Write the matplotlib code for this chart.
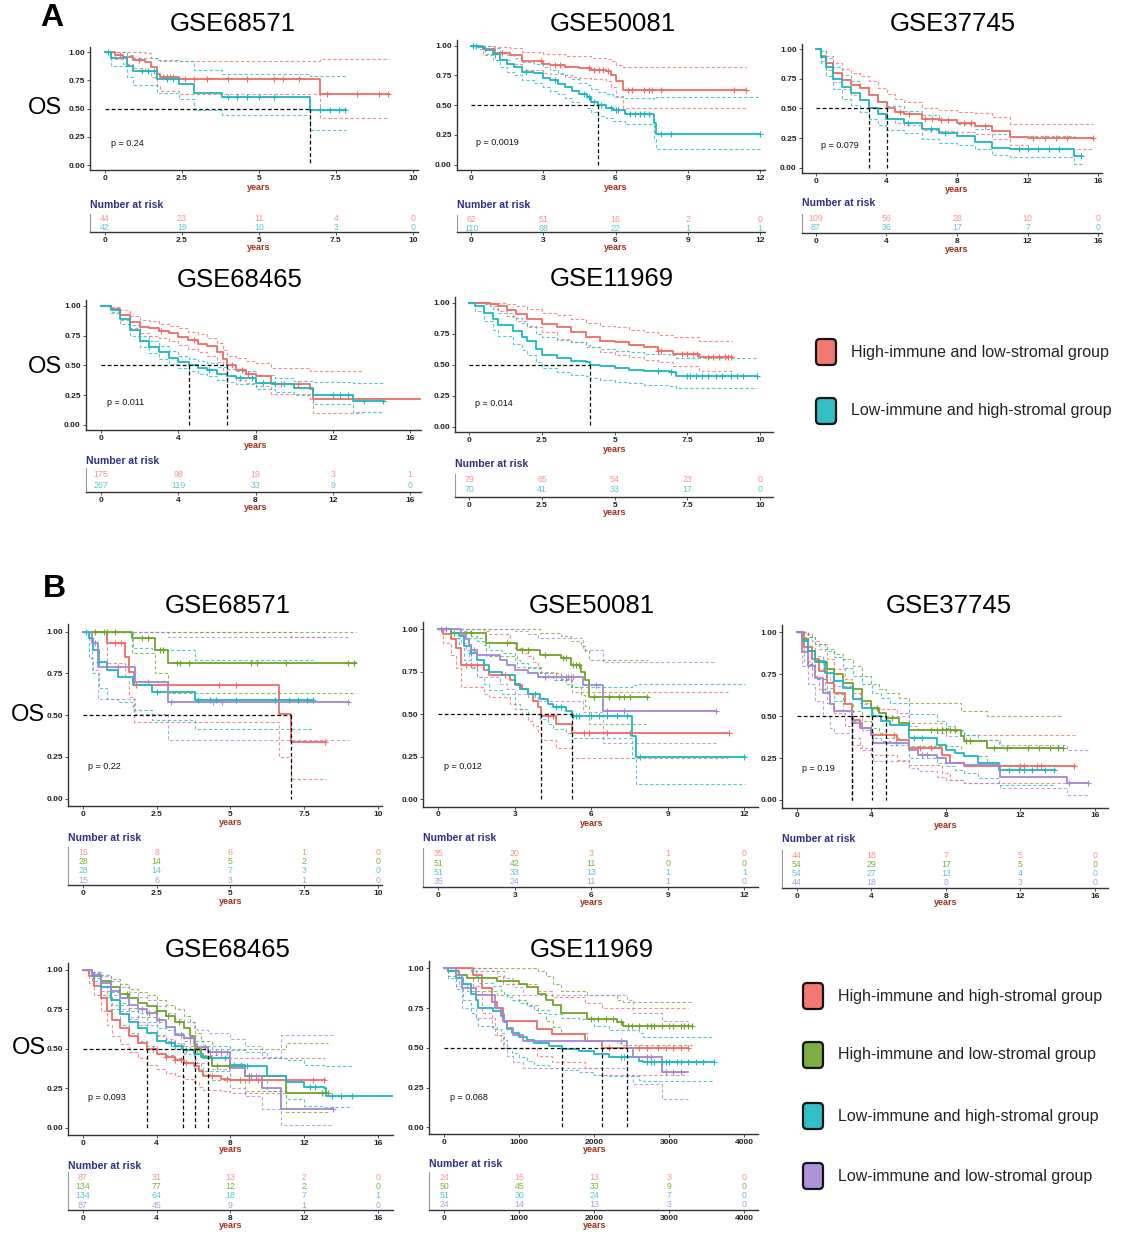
import matplotlib
matplotlib.use('Agg')
import matplotlib.pyplot as plt
from matplotlib.patches import FancyBboxPatch
import numpy as np

plt.rcParams['font.family'] = ['Liberation Sans', 'DejaVu Sans']

W, H = 1121, 1235

# colours of the groups
RED, GREEN, CYAN, PURPLE = '#F06B63', '#6FA52A', '#1DB8C0', '#A586D6'
RED_L, GREEN_L, CYAN_L, PURPLE_L = '#F5958E', '#7FB23A', '#5CC8CE', '#B49BDC'

# ---------------- data ----------------
# each curve: rows of [time, survival, lower CI, upper CI]

# A / GSE68571
a1_red = [[0, 1.00, 1.00, 1.00], [0.33, 0.98, 0.94, 1.00], [0.6, 0.96, 0.90, 1.00],
          [0.9, 0.93, 0.86, 1.00], [1.3, 0.91, 0.83, 0.99], [1.5, 0.87, 0.78, 0.95],
          [1.7, 0.81, 0.70, 0.93], [1.8, 0.78, 0.66, 0.92], [2.4, 0.76, 0.63, 0.92],
          [7.0, 0.63, 0.42, 0.94]]
a1_red_cens = [0.5, 1.1, 1.9, 2.0, 2.1, 2.2, 2.6, 2.9, 3.3, 4.0, 4.6, 5.5, 5.8, 6.3, 7.2, 8.2, 8.9, 9.2]
a1_cyan = [[0, 1.00, 1.00, 1.00], [0.2, 0.95, 0.88, 1.00], [0.7, 0.88, 0.78, 0.98],
           [0.9, 0.83, 0.71, 0.95], [1.7, 0.76, 0.64, 0.93], [2.4, 0.72, 0.59, 0.92],
           [2.9, 0.64, 0.49, 0.84], [3.8, 0.60, 0.44, 0.81], [6.65, 0.49, 0.31, 0.79]]
a1_cyan_cens = [0.1, 1.2, 1.4, 1.6, 2.0, 2.2, 4.0, 4.3, 4.6, 5.0, 5.5, 7.0, 7.3, 7.6, 7.8]
a1_ends = [9.24, 7.83]
a1_risk = [[44, 23, 11, 4, 0], [42, 19, 10, 3, 0]]

# A / GSE50081
a2_red = [[0, 1.00, 1.00, 1.00], [0.5, 0.97, 0.92, 1.00], [1.0, 0.94, 0.88, 0.99],
          [1.6, 0.92, 0.85, 0.98], [2.1, 0.87, 0.80, 0.95], [3.0, 0.85, 0.77, 0.93],
          [3.3, 0.84, 0.76, 0.93], [3.9, 0.82, 0.74, 0.91], [4.5, 0.81, 0.73, 0.91],
          [5.0, 0.80, 0.72, 0.90], [5.6, 0.79, 0.70, 0.89], [5.8, 0.75, 0.65, 0.87],
          [6.0, 0.70, 0.58, 0.84], [6.3, 0.63, 0.48, 0.82]]
a2_red_cens = [1.3, 2.9, 3.5, 3.7, 4.9, 5.1, 5.3, 5.5, 5.7, 6.5, 6.7, 7.2, 7.4, 7.5, 7.9, 10.9, 11.4]
a2_cyan = [[0, 1.00, 1.00, 1.00], [0.3, 0.99, 0.97, 1.00], [0.6, 0.96, 0.93, 1.00],
           [0.9, 0.93, 0.88, 0.98], [1.2, 0.88, 0.82, 0.95], [1.5, 0.85, 0.78, 0.92],
           [1.8, 0.82, 0.75, 0.90], [2.1, 0.78, 0.71, 0.86], [2.6, 0.77, 0.69, 0.85],
           [3.0, 0.73, 0.65, 0.82], [3.3, 0.71, 0.62, 0.80], [3.6, 0.68, 0.59, 0.77],
           [3.9, 0.65, 0.56, 0.75], [4.2, 0.62, 0.53, 0.72], [4.5, 0.59, 0.50, 0.69],
           [4.8, 0.57, 0.48, 0.67], [5.0, 0.53, 0.44, 0.64], [5.26, 0.50, 0.41, 0.61],
           [5.6, 0.48, 0.39, 0.59], [5.9, 0.46, 0.37, 0.57], [6.4, 0.43, 0.34, 0.56],
           [7.6, 0.35, 0.22, 0.55], [7.7, 0.26, 0.13, 0.57]]
a2_cyan_cens = [0.1, 0.2, 1.0, 2.3, 3.5, 4.7, 4.9, 5.1, 5.4, 5.8, 6.0, 6.1, 6.6, 6.8, 7.0, 7.2, 7.4, 7.9, 8.3, 12.0]
a2_ends = [11.42, 12.0]
a2_risk = [[62, 51, 16, 2, 0], [110, 68, 22, 1, 1]]

# A / GSE37745
a3_red = [[0, 1.00, 1.00, 1.00], [0.3, 0.94, 0.90, 0.98], [0.6, 0.88, 0.82, 0.94],
          [1.0, 0.80, 0.72, 0.88], [1.5, 0.74, 0.66, 0.83], [2.0, 0.70, 0.61, 0.80],
          [2.5, 0.67, 0.57, 0.77], [3.0, 0.61, 0.51, 0.73], [3.5, 0.55, 0.46, 0.67],
          [4.06, 0.50, 0.41, 0.62], [4.5, 0.47, 0.38, 0.58], [5.0, 0.45, 0.36, 0.55],
          [6.0, 0.41, 0.32, 0.50], [7.0, 0.40, 0.31, 0.49], [8.0, 0.38, 0.30, 0.47],
          [9.0, 0.35, 0.28, 0.46], [10.0, 0.31, 0.24, 0.43], [11.0, 0.26, 0.19, 0.37],
          [12.0, 0.25, 0.16, 0.37]]
a3_red_cens = [4.8, 5.3, 6.2, 6.6, 7.1, 7.5, 8.4, 8.8, 9.6, 12.3, 13.0, 13.6, 14.2, 15.7]
a3_cyan = [[0, 1.00, 1.00, 1.00], [0.3, 0.93, 0.88, 0.98], [0.6, 0.85, 0.77, 0.92],
           [1.0, 0.75, 0.66, 0.85], [1.5, 0.68, 0.58, 0.78], [2.0, 0.63, 0.53, 0.73],
           [2.5, 0.57, 0.47, 0.68], [3.02, 0.50, 0.41, 0.62], [3.5, 0.45, 0.36, 0.56],
           [4.0, 0.41, 0.32, 0.52], [5.0, 0.38, 0.29, 0.48], [6.0, 0.33, 0.24, 0.44],
           [7.0, 0.29, 0.21, 0.40], [8.0, 0.27, 0.19, 0.37], [9.0, 0.22, 0.16, 0.33],
           [10.0, 0.17, 0.11, 0.28], [11.0, 0.16, 0.09, 0.27], [14.6, 0.10, 0.03, 0.26]]
a3_cyan_cens = [5.2, 6.5, 7.3, 11.5, 12.0, 12.6, 13.2, 13.8, 15.0]
a3_ends = [15.7, 15.06]
a3_risk = [[109, 56, 28, 10, 0], [87, 36, 17, 7, 0]]

# A / GSE68465
a4_red = [[0, 1.00, 1.00, 1.00], [0.5, 0.97, 0.95, 0.99], [1.0, 0.92, 0.88, 0.96],
          [1.5, 0.86, 0.81, 0.91], [2.0, 0.82, 0.77, 0.88], [2.5, 0.81, 0.75, 0.87],
          [3.0, 0.79, 0.73, 0.85], [3.5, 0.77, 0.70, 0.83], [4.0, 0.74, 0.67, 0.81],
          [4.5, 0.71, 0.64, 0.78], [5.0, 0.68, 0.61, 0.76], [5.5, 0.66, 0.58, 0.73],
          [6.0, 0.61, 0.53, 0.69], [6.3, 0.55, 0.46, 0.63], [6.51, 0.50, 0.41, 0.58],
          [7.0, 0.46, 0.38, 0.56], [7.5, 0.43, 0.35, 0.54], [8.0, 0.41, 0.33, 0.52],
          [8.8, 0.34, 0.26, 0.48], [10.8, 0.30, 0.22, 0.45], [11.0, 0.22, 0.10, 0.45]]
a4_red_cens = [3.1, 4.8, 6.8, 7.3, 7.6, 9.3, 10.2]
a4_cyan = [[0, 1.00, 1.00, 1.00], [0.5, 0.96, 0.94, 0.98], [1.0, 0.89, 0.85, 0.93],
           [1.5, 0.80, 0.75, 0.84], [2.0, 0.70, 0.65, 0.75], [2.5, 0.65, 0.60, 0.70],
           [3.0, 0.61, 0.55, 0.66], [3.5, 0.56, 0.51, 0.62], [4.0, 0.53, 0.48, 0.58],
           [4.56, 0.50, 0.45, 0.55], [5.0, 0.48, 0.43, 0.54], [5.5, 0.46, 0.41, 0.52],
           [6.0, 0.43, 0.38, 0.49], [6.5, 0.41, 0.36, 0.47], [7.0, 0.39, 0.34, 0.45],
           [8.0, 0.35, 0.30, 0.42], [9.0, 0.34, 0.28, 0.39], [10.0, 0.31, 0.25, 0.37],
           [11.0, 0.25, 0.18, 0.36], [13.04, 0.20, 0.11, 0.35]]
a4_cyan_cens = [5.6, 7.2, 7.8, 8.4, 9.0, 9.5, 12.0, 12.4, 12.8, 13.6, 14.6]
a4_ends = [16.55, 14.63]
a4_ci_ends = [13.5, 14.63]
a4_risk = [[175, 98, 19, 3, 1], [267, 119, 33, 9, 0]]

# A / GSE11969
a5_red = [[0, 1.00, 1.00, 1.00], [0.7, 0.99, 0.97, 1.00], [1.0, 0.97, 0.93, 1.00],
          [1.3, 0.94, 0.89, 0.99], [1.6, 0.91, 0.85, 0.97], [2.0, 0.87, 0.80, 0.95],
          [2.5, 0.83, 0.76, 0.92], [3.0, 0.80, 0.71, 0.90], [3.5, 0.76, 0.68, 0.87],
          [4.0, 0.72, 0.64, 0.84], [4.5, 0.69, 0.60, 0.81], [5.0, 0.68, 0.58, 0.80],
          [5.5, 0.66, 0.56, 0.78], [6.0, 0.64, 0.54, 0.76], [6.5, 0.61, 0.52, 0.74],
          [7.0, 0.59, 0.49, 0.72], [7.9, 0.56, 0.45, 0.69]]
a5_red_cens = [6.5, 6.6, 7.3, 7.5, 7.7, 7.85, 8.2, 8.4, 8.6, 8.8, 8.9, 9.0]
a5_cyan = [[0, 1.00, 1.00, 1.00], [0.2, 0.97, 0.93, 1.00], [0.5, 0.92, 0.85, 0.99],
           [0.8, 0.87, 0.78, 0.95], [1.0, 0.82, 0.73, 0.92], [1.5, 0.77, 0.67, 0.88],
           [1.8, 0.72, 0.62, 0.84], [2.0, 0.69, 0.58, 0.81], [2.3, 0.63, 0.52, 0.75],
           [2.5, 0.58, 0.47, 0.72], [3.0, 0.55, 0.44, 0.70], [3.5, 0.53, 0.42, 0.68],
           [4.0, 0.52, 0.41, 0.66], [4.15, 0.50, 0.39, 0.64], [4.5, 0.49, 0.38, 0.63],
           [5.0, 0.47, 0.36, 0.61], [5.5, 0.46, 0.35, 0.60], [6.0, 0.45, 0.34, 0.59],
           [6.9, 0.44, 0.33, 0.58], [7.1, 0.41, 0.31, 0.55]]
a5_cyan_cens = [6.5, 6.95, 7.5, 7.6, 7.8, 8.0, 8.2, 8.5, 8.7, 9.0, 9.2, 9.4, 9.88]
a5_ends = [9.03, 9.88]
a5_risk = [[79, 65, 54, 23, 0], [70, 41, 33, 17, 0]]

# B / GSE68571
b1_red = [[0, 1.00, 1.00, 1.00], [0.81, 0.93, 0.81, 1.00], [1.43, 0.85, 0.73, 1.00],
          [1.57, 0.76, 0.61, 1.00], [1.73, 0.68, 0.46, 1.00], [6.64, 0.51, 0.25, 1.00],
          [7.05, 0.34, 0.12, 0.97]]
b1_red_cens = [1.1, 1.3, 1.8, 4.6, 5.2, 8.2]
b1_green = [[0, 1.00, 1.00, 1.00], [1.66, 0.96, 0.87, 1.00], [2.45, 0.89, 0.75, 1.00],
            [2.9, 0.81, 0.63, 1.00]]
b1_green_cens = [0.4, 0.7, 0.8, 1.1, 2.0, 2.2, 2.6, 2.7, 3.2, 3.3, 3.6, 5.7, 5.9, 6.9, 9.0, 9.2]
b1_cyan = [[0, 1.00, 1.00, 1.00], [0.2, 0.96, 0.84, 1.00], [0.35, 0.89, 0.75, 1.00],
           [0.55, 0.82, 0.66, 1.00], [0.8, 0.77, 0.60, 1.00], [1.2, 0.73, 0.58, 1.00],
           [1.7, 0.68, 0.53, 0.90], [2.35, 0.64, 0.47, 0.89], [3.8, 0.59, 0.42, 0.83]]
b1_cyan_cens = [0.1, 0.55, 2.5, 3.9, 4.3, 4.5, 5.2, 6.5, 7.0, 7.3, 7.6, 7.8]
b1_purple = [[0, 1.00, 1.00, 1.00], [0.3, 0.93, 0.77, 1.00], [0.5, 0.79, 0.60, 1.00],
             [1.75, 0.70, 0.51, 1.00], [2.9, 0.58, 0.35, 0.97]]
b1_purple_cens = [0.4, 1.2, 2.2, 3.0, 4.4, 4.7, 9.0]
b1_ends = [8.25, 9.26, 7.82, 9.04]
b1_risk = [[15, 8, 6, 1, 0], [28, 14, 5, 2, 0], [28, 14, 7, 3, 0], [15, 6, 3, 1, 0]]

# B / GSE50081
b2_red = [[0, 1.00, 1.00, 1.00], [0.2, 0.97, 0.92, 1.00], [0.5, 0.94, 0.85, 1.00],
          [0.7, 0.89, 0.77, 1.00], [0.9, 0.79, 0.66, 1.00], [1.8, 0.76, 0.62, 0.99],
          [2.0, 0.73, 0.60, 0.97], [2.8, 0.70, 0.56, 0.92], [3.0, 0.67, 0.53, 0.89],
          [3.3, 0.65, 0.50, 0.86], [3.5, 0.62, 0.46, 0.84], [3.7, 0.58, 0.43, 0.81],
          [3.9, 0.54, 0.39, 0.78], [4.01, 0.49, 0.35, 0.75], [4.6, 0.44, 0.30, 0.70],
          [5.24, 0.39, 0.24, 0.63]]
b2_red_cens = [1.1, 1.3, 1.5, 2.6, 4.3, 4.5, 5.7, 5.9, 6.6, 7.5, 11.4]
b2_green = [[0, 1.00, 1.00, 1.00], [0.5, 0.98, 0.95, 1.00], [1.87, 0.92, 0.84, 1.00],
            [3.1, 0.88, 0.78, 1.00], [4.0, 0.85, 0.74, 0.98], [4.8, 0.83, 0.71, 0.96],
            [5.2, 0.79, 0.66, 0.93], [5.6, 0.75, 0.61, 0.90], [5.75, 0.70, 0.55, 0.87],
            [5.92, 0.60, 0.44, 0.82]]
b2_green_cens = [0.6, 1.3, 2.7, 3.3, 3.5, 4.2, 4.9, 5.0, 5.3, 5.4, 5.5, 6.1, 6.7, 7.1, 7.3, 7.5, 8.2]
b2_cyan = [[0, 1.00, 1.00, 1.00], [0.5, 0.98, 0.95, 1.00], [0.8, 0.96, 0.89, 1.00],
           [1.0, 0.90, 0.82, 0.99], [1.3, 0.86, 0.77, 0.96], [1.5, 0.82, 0.72, 0.93],
           [1.8, 0.79, 0.68, 0.91], [2.0, 0.75, 0.64, 0.88], [2.5, 0.73, 0.62, 0.86],
           [3.0, 0.68, 0.56, 0.82], [3.2, 0.65, 0.53, 0.80], [3.5, 0.62, 0.50, 0.77],
           [4.0, 0.59, 0.47, 0.74], [4.3, 0.56, 0.44, 0.72], [4.5, 0.54, 0.41, 0.70],
           [5.0, 0.52, 0.39, 0.68], [5.24, 0.49, 0.36, 0.66], [7.58, 0.37, 0.24, 0.67],
           [7.75, 0.25, 0.09, 0.68]]
b2_cyan_cens = [1.3, 3.8, 4.6, 4.8, 5.3, 5.4, 5.5, 6.0, 6.3, 6.6, 7.0, 7.4, 7.9, 12.0]
b2_purple = [[0, 1.00, 1.00, 1.00], [0.9, 0.97, 0.92, 1.00], [1.1, 0.94, 0.88, 1.00],
             [1.2, 0.91, 0.83, 1.00], [1.3, 0.88, 0.78, 1.00], [1.5, 0.85, 0.72, 1.00],
             [2.4, 0.82, 0.68, 1.00], [2.7, 0.79, 0.65, 1.00], [3.0, 0.76, 0.62, 0.99],
             [3.5, 0.74, 0.60, 0.97], [3.9, 0.72, 0.58, 0.95], [5.69, 0.67, 0.51, 0.88],
             [6.45, 0.52, 0.33, 0.81]]
b2_purple_cens = [0.1, 0.3, 1.4, 4.2, 4.8, 5.0, 5.1, 5.2, 5.3, 6.2, 6.6, 7.3, 10.9]
b2_ends = [11.37, 8.24, 12.03, 10.9]
b2_risk = [[35, 20, 3, 1, 0], [51, 42, 11, 0, 0], [51, 33, 13, 1, 1], [35, 24, 11, 1, 0]]

# B / GSE37745
b3_red = [[0, 1.00, 1.00, 1.00], [0.4, 0.91, 0.83, 0.99], [0.8, 0.84, 0.74, 0.95],
          [1.2, 0.77, 0.66, 0.90], [1.6, 0.70, 0.58, 0.84], [2.0, 0.64, 0.52, 0.78],
          [2.6, 0.57, 0.44, 0.72], [2.97, 0.48, 0.37, 0.64], [3.4, 0.43, 0.31, 0.58],
          [4.0, 0.39, 0.27, 0.54], [5.4, 0.36, 0.24, 0.52], [6.0, 0.31, 0.21, 0.46],
          [7.8, 0.27, 0.16, 0.43], [8.2, 0.22, 0.12, 0.41], [9.0, 0.20, 0.10, 0.39]]
b3_red_cens = [5.2, 6.6, 7.2, 12.0, 12.2, 12.9, 13.1, 14.9]
b3_green = [[0, 1.00, 1.00, 1.00], [0.3, 0.96, 0.91, 1.00], [0.6, 0.89, 0.81, 0.97],
            [1.0, 0.82, 0.72, 0.93], [1.6, 0.78, 0.67, 0.90], [2.0, 0.75, 0.63, 0.87],
            [2.5, 0.70, 0.58, 0.84], [3.0, 0.66, 0.53, 0.80], [3.5, 0.59, 0.47, 0.74],
            [4.0, 0.55, 0.43, 0.69], [4.4, 0.52, 0.40, 0.66], [4.81, 0.49, 0.37, 0.64],
            [5.5, 0.46, 0.34, 0.61], [6.0, 0.42, 0.32, 0.58], [8.8, 0.38, 0.28, 0.53],
            [9.0, 0.35, 0.26, 0.53], [10.2, 0.31, 0.21, 0.50]]
b3_green_cens = [4.3, 5.1, 7.2, 7.5, 7.8, 8.0, 8.2, 8.5, 9.1, 9.3, 10.6, 11.3, 12.4, 13.0, 13.6, 14.0, 14.3]
b3_cyan = [[0, 1.00, 1.00, 1.00], [0.3, 0.95, 0.89, 1.00], [0.6, 0.89, 0.81, 0.97],
           [1.0, 0.83, 0.72, 0.93], [1.5, 0.76, 0.65, 0.89], [2.0, 0.71, 0.59, 0.85],
           [2.5, 0.67, 0.53, 0.79], [3.0, 0.60, 0.47, 0.74], [3.5, 0.55, 0.42, 0.69],
           [4.03, 0.50, 0.37, 0.64], [4.5, 0.47, 0.35, 0.61], [5.0, 0.45, 0.33, 0.58],
           [6.0, 0.37, 0.25, 0.51], [7.5, 0.33, 0.22, 0.47], [8.0, 0.30, 0.20, 0.44],
           [8.5, 0.28, 0.18, 0.42], [9.0, 0.26, 0.16, 0.39], [9.7, 0.22, 0.13, 0.36],
           [10.84, 0.18, 0.09, 0.31]]
b3_cyan_cens = [6.3, 6.7, 11.4, 11.9, 12.2, 12.6, 13.3, 13.8]
b3_purple = [[0, 1.00, 1.00, 1.00], [0.3, 0.88, 0.80, 0.97], [0.6, 0.80, 0.69, 0.91],
             [1.0, 0.73, 0.59, 0.86], [1.4, 0.64, 0.50, 0.78], [1.8, 0.57, 0.43, 0.71],
             [2.0, 0.53, 0.40, 0.68], [2.97, 0.46, 0.33, 0.60], [3.5, 0.43, 0.30, 0.57],
             [4.0, 0.40, 0.27, 0.54], [4.1, 0.34, 0.23, 0.50], [6.0, 0.30, 0.19, 0.44],
             [6.5, 0.27, 0.17, 0.42], [7.5, 0.25, 0.14, 0.40], [8.0, 0.22, 0.12, 0.38],
             [9.0, 0.21, 0.10, 0.36], [10.9, 0.14, 0.07, 0.33], [14.5, 0.10, 0.03, 0.30]]
b3_purple_cens = [5.3, 6.7, 7.0, 14.6, 15.6]
b3_ends = [14.94, 14.27, 13.86, 15.65]
b3_risk = [[44, 18, 7, 5, 0], [54, 29, 17, 5, 0], [54, 27, 13, 4, 0], [44, 18, 8, 3, 0]]

# B / GSE68465
b4_red = [[0, 1.00, 1.00, 1.00], [0.3, 0.96, 0.92, 0.99], [0.6, 0.90, 0.84, 0.96],
          [1.0, 0.82, 0.74, 0.90], [1.3, 0.74, 0.65, 0.83], [1.6, 0.68, 0.58, 0.78],
          [2.0, 0.63, 0.53, 0.74], [2.5, 0.58, 0.48, 0.69], [3.0, 0.54, 0.44, 0.65],
          [3.46, 0.50, 0.40, 0.61], [4.0, 0.47, 0.37, 0.58], [4.5, 0.45, 0.35, 0.56],
          [5.0, 0.43, 0.33, 0.54], [5.5, 0.41, 0.31, 0.52], [6.0, 0.39, 0.29, 0.50],
          [6.3, 0.36, 0.26, 0.47], [6.5, 0.33, 0.24, 0.46], [7.5, 0.31, 0.23, 0.45],
          [8.0, 0.30, 0.22, 0.44]]
b4_red_cens = [3.8, 4.5, 5.0, 5.3, 5.6, 7.0, 7.8, 8.5, 9.0, 9.5, 12.5, 13.1]
b4_green = [[0, 1.00, 1.00, 1.00], [0.5, 0.97, 0.95, 0.99], [1.0, 0.93, 0.89, 0.97],
            [1.5, 0.89, 0.84, 0.94], [2.0, 0.85, 0.79, 0.91], [2.5, 0.82, 0.76, 0.88],
            [3.0, 0.79, 0.73, 0.86], [3.5, 0.77, 0.70, 0.84], [4.0, 0.74, 0.67, 0.81],
            [4.5, 0.71, 0.64, 0.78], [5.0, 0.67, 0.59, 0.75], [5.5, 0.63, 0.55, 0.71],
            [5.8, 0.58, 0.49, 0.67], [6.06, 0.50, 0.41, 0.60], [6.4, 0.45, 0.34, 0.55],
            [7.0, 0.39, 0.30, 0.50], [8.8, 0.33, 0.23, 0.50], [11.0, 0.22, 0.10, 0.54]]
b4_green_cens = [2.4, 4.0, 4.6, 5.2, 6.2, 7.3, 7.9, 9.0, 13.0, 13.3]
b4_cyan = [[0, 1.00, 1.00, 1.00], [0.5, 0.96, 0.93, 0.98], [1.0, 0.89, 0.84, 0.93],
           [1.5, 0.81, 0.75, 0.86], [2.0, 0.72, 0.65, 0.78], [2.5, 0.67, 0.60, 0.74],
           [3.0, 0.63, 0.55, 0.70], [3.5, 0.60, 0.52, 0.67], [4.0, 0.55, 0.47, 0.63],
           [4.5, 0.54, 0.46, 0.62], [5.0, 0.52, 0.44, 0.60], [5.43, 0.49, 0.41, 0.57],
           [6.0, 0.47, 0.38, 0.55], [6.5, 0.44, 0.36, 0.52], [8.0, 0.40, 0.31, 0.49],
           [8.8, 0.39, 0.30, 0.48], [10.0, 0.33, 0.23, 0.44], [11.0, 0.29, 0.18, 0.43],
           [12.0, 0.26, 0.14, 0.40], [13.1, 0.25, 0.13, 0.39], [13.2, 0.20, 0.13, 0.39]]
b4_cyan_cens = [4.8, 5.0, 5.3, 5.6, 7.7, 8.2, 8.6, 8.9, 12.3, 12.6, 13.5, 14.0, 14.6]
b4_purple = [[0, 1.00, 1.00, 1.00], [0.5, 0.97, 0.95, 0.99], [1.0, 0.92, 0.87, 0.96],
             [1.5, 0.87, 0.81, 0.93], [2.0, 0.82, 0.75, 0.89], [2.5, 0.78, 0.70, 0.86],
             [3.0, 0.75, 0.67, 0.83], [3.5, 0.73, 0.65, 0.81], [4.0, 0.68, 0.59, 0.77],
             [4.5, 0.64, 0.55, 0.73], [5.0, 0.59, 0.50, 0.69], [5.5, 0.57, 0.47, 0.67],
             [6.0, 0.53, 0.43, 0.63], [6.2, 0.51, 0.41, 0.62], [6.77, 0.48, 0.37, 0.60],
             [8.0, 0.38, 0.25, 0.56], [8.8, 0.33, 0.20, 0.52], [9.7, 0.25, 0.12, 0.45],
             [10.75, 0.12, 0.02, 0.59]]
b4_purple_cens = [3.2, 3.6, 4.1, 5.3, 5.8, 6.6, 6.9, 7.2, 7.5, 7.8, 9.1, 9.4, 13.6]
b4_ends = [13.14, 13.3, 16.85, 13.6]
b4_ci_ends = [13.14, 13.3, 14.6, 13.6]
b4_risk = [[87, 31, 13, 2, 0], [134, 77, 12, 2, 0], [134, 64, 18, 7, 1], [87, 45, 9, 1, 0]]

# B / GSE11969 (time axis in days, labelled "years" in the original)
b5_red = [[0, 1.00, 1.00, 1.00], [380, 0.96, 0.89, 1.00], [500, 0.875, 0.72, 1.00],
          [640, 0.79, 0.63, 0.98], [700, 0.75, 0.58, 0.95], [780, 0.67, 0.50, 0.90],
          [1230, 0.62, 0.45, 0.86], [1430, 0.585, 0.41, 0.82], [1880, 0.545, 0.37, 0.78],
          [2098, 0.50, 0.33, 0.75]]
b5_red_cens = [2200, 2600, 2700, 2850, 2950, 3050, 3150, 3250]
b5_green = [[0, 1.00, 1.00, 1.00], [50, 0.98, 0.95, 1.00], [200, 0.96, 0.90, 1.00],
            [300, 0.94, 0.86, 1.00], [700, 0.92, 0.83, 1.00], [1000, 0.90, 0.80, 1.00],
            [1100, 0.88, 0.77, 1.00], [1250, 0.84, 0.72, 0.98], [1350, 0.80, 0.67, 0.95],
            [1450, 0.77, 0.63, 0.90], [1550, 0.72, 0.59, 0.86], [1900, 0.68, 0.55, 0.83],
            [2300, 0.66, 0.53, 0.80], [2380, 0.64, 0.52, 0.79]]
b5_green_cens = [1950, 2050, 2150, 2250, 2350, 2450, 2500, 2600, 2700, 2750, 2800, 2900,
                 3000, 3050, 3150, 3200, 3250, 3298]
b5_cyan = [[0, 1.00, 1.00, 1.00], [50, 0.98, 0.94, 1.00], [150, 0.94, 0.87, 1.00],
           [250, 0.90, 0.80, 1.00], [350, 0.84, 0.72, 0.98], [420, 0.80, 0.68, 0.95],
           [450, 0.75, 0.64, 0.91], [650, 0.73, 0.62, 0.89], [750, 0.70, 0.59, 0.86],
           [800, 0.66, 0.55, 0.84], [830, 0.62, 0.50, 0.82], [900, 0.59, 0.47, 0.80],
           [1000, 0.57, 0.44, 0.78], [1100, 0.55, 0.42, 0.76], [1200, 0.53, 0.39, 0.74],
           [1400, 0.51, 0.37, 0.71], [1564, 0.49, 0.36, 0.69], [1800, 0.48, 0.35, 0.68],
           [2000, 0.46, 0.33, 0.64], [2200, 0.445, 0.32, 0.61], [2600, 0.42, 0.30, 0.59],
           [2650, 0.41, 0.29, 0.57]]
b5_cyan_cens = [2350, 2400, 2700, 2750, 2800, 2900, 2950, 3000, 3100, 3150, 3250, 3350, 3450, 3600]
b5_purple = [[0, 1.00, 1.00, 1.00], [150, 0.96, 0.89, 1.00], [230, 0.875, 0.75, 1.00],
             [420, 0.83, 0.69, 0.98], [680, 0.75, 0.58, 0.98], [760, 0.71, 0.54, 0.98],
             [800, 0.67, 0.50, 0.94], [840, 0.625, 0.45, 0.94], [920, 0.58, 0.41, 0.88],
             [1050, 0.54, 0.37, 0.83], [2431, 0.50, 0.33, 0.80], [2520, 0.445, 0.27, 0.72],
             [2900, 0.35, 0.18, 0.67]]
b5_purple_cens = [2350, 2700, 2750, 2950, 3050, 3150]
b5_ends = [3253, 3298, 3600, 3244]
b5_risk = [[24, 16, 13, 3, 0], [50, 45, 33, 9, 0], [51, 30, 24, 7, 0], [24, 14, 13, 3, 0]]

titles = ['GSE68571', 'GSE50081', 'GSE37745', 'GSE68465', 'GSE11969',
          'GSE68571', 'GSE50081', 'GSE37745', 'GSE68465', 'GSE11969']
pvals = ['p = 0.24', 'p = 0.0019', 'p = 0.079', 'p = 0.011', 'p = 0.014',
         'p = 0.22', 'p = 0.012', 'p = 0.19', 'p = 0.093', 'p = 0.068']
xticks = [[0, 2.5, 5, 7.5, 10], [0, 3, 6, 9, 12], [0, 4, 8, 12, 16], [0, 4, 8, 12, 16],
          [0, 2.5, 5, 7.5, 10], [0, 2.5, 5, 7.5, 10], [0, 3, 6, 9, 12], [0, 4, 8, 12, 16],
          [0, 4, 8, 12, 16], [0, 1000, 2000, 3000, 4000]]
legend_a = ['High-immune and low-stromal group', 'Low-immune and high-stromal group']
legend_b = ['High-immune and high-stromal group', 'High-immune and low-stromal group',
            'Low-immune and high-stromal group', 'Low-immune and low-stromal group']

# ---------------- layout (pixels) ----------------
# pixel x of time 0, pixel x of last tick, pixel y of S=1, pixel y of S=0
boxes = [(105, 412.7, 52.3, 165), (471, 760, 45.7, 164.7), (815.7, 1098.3, 49, 167.7),
         (101, 410, 305.7, 425), (469.3, 760, 302.7, 426.7),
         (83, 377.7, 631.7, 798.7), (438.3, 744.3, 629.3, 799), (796.7, 1095, 632.3, 800),
         (83, 377.7, 970, 1127.7), (444.3, 744.3, 968.3, 1127.3)]
xright = [1.016, 1.017, 1.014, 1.035, 1.045, 1.013, 1.045, 1.044, 1.053, 1.046]
title_pos = [(233, 24), (613, 24), (953, 24), (240, 280), (612, 279),
             (228, 606), (592, 606), (949, 606), (228, 950), (592, 950)]
# years label, "Number at risk", first row, row step, table axis, second years label
tab_pos = [(187.5, 205, 219, 8.6, 232, 248), (187.7, 205, 220, 8.3, 232, 248),
           (189, 203.5, 219, 9.0, 233, 249), (446, 461, 475, 11, 492.3, 507.3),
           (449.3, 464.3, 480, 10, 497.3, 512.7), (822.7, 837.7, 852.3, 9.3, 885, 901.7),
           (823.3, 838.3, 854, 9.2, 886.7, 902.7), (825, 839.3, 855, 9.1, 888.3, 902.7),
           (1150, 1165.7, 1177.7, 9.1, 1210, 1225), (1150, 1164.3, 1177.7, 8.9, 1210, 1225)]

two = [RED, CYAN]
two_l = [RED_L, CYAN_L]
four = [RED, GREEN, CYAN, PURPLE]
four_l = [RED_L, GREEN_L, CYAN_L, PURPLE_L]

panels = [
    ([a1_red, a1_cyan], [a1_red_cens, a1_cyan_cens], a1_ends, a1_ends, a1_risk, two, two_l),
    ([a2_red, a2_cyan], [a2_red_cens, a2_cyan_cens], a2_ends, a2_ends, a2_risk, two, two_l),
    ([a3_red, a3_cyan], [a3_red_cens, a3_cyan_cens], a3_ends, a3_ends, a3_risk, two, two_l),
    ([a4_red, a4_cyan], [a4_red_cens, a4_cyan_cens], a4_ends, a4_ci_ends, a4_risk, two, two_l),
    ([a5_red, a5_cyan], [a5_red_cens, a5_cyan_cens], a5_ends, a5_ends, a5_risk, two, two_l),
    ([b1_red, b1_green, b1_cyan, b1_purple],
     [b1_red_cens, b1_green_cens, b1_cyan_cens, b1_purple_cens], b1_ends, b1_ends, b1_risk, four, four_l),
    ([b2_red, b2_green, b2_cyan, b2_purple],
     [b2_red_cens, b2_green_cens, b2_cyan_cens, b2_purple_cens], b2_ends, b2_ends, b2_risk, four, four_l),
    ([b3_red, b3_green, b3_cyan, b3_purple],
     [b3_red_cens, b3_green_cens, b3_cyan_cens, b3_purple_cens], b3_ends, b3_ends, b3_risk, four, four_l),
    ([b4_red, b4_green, b4_cyan, b4_purple],
     [b4_red_cens, b4_green_cens, b4_cyan_cens, b4_purple_cens], b4_ends, b4_ci_ends, b4_risk, four, four_l),
    ([b5_red, b5_green, b5_cyan, b5_purple],
     [b5_red_cens, b5_green_cens, b5_cyan_cens, b5_purple_cens], b5_ends, b5_ends, b5_risk, four, four_l),
]

AXC = '#333333'
YEARS_C = '#A0301E'
NAVY = '#2F2F85'

fig = plt.figure(figsize=(W / 100, H / 100), dpi=100)
over = fig.add_axes([0, 0, 1, 1])
over.set_xlim(0, W)
over.set_ylim(H, 0)
over.axis('off')


def rect(left, top, right, bottom):
    return [left / W, 1 - bottom / H, (right - left) / W, (bottom - top) / H]


def style_ticks(ax, ticks):
    ax.set_xticks(ticks)
    ax.set_xticklabels(['{:g}'.format(t) for t in ticks])
    ax.tick_params(axis='both', length=2, width=0.6, color=AXC, pad=1.5,
                   labelsize=6, labelcolor='#222222')
    for lab in ax.get_xticklabels() + ax.get_yticklabels():
        lab.set_fontweight('bold')


for k, (curves, cens, ends, ci_ends, risk, cols, cols_l) in enumerate(panels):
    x0, xm, y1, y0 = boxes[k]
    ticks = xticks[k]
    xmax = ticks[-1]
    sx = (xm - x0) / xmax
    sy = y0 - y1
    xa, xb = -0.05 * xmax, xright[k] * xmax
    left, right = x0 + xa * sx, x0 + xb * sx
    top, bottom = y0 - 1.045 * sy, y0 + 0.045 * sy

    ax = fig.add_axes(rect(left, top, right, bottom))
    ax.set_xlim(xa, xb)
    ax.set_ylim(-0.045, 1.045)
    ax.patch.set_alpha(0)
    for s in ['top', 'right']:
        ax.spines[s].set_visible(False)
    for s in ['left', 'bottom']:
        ax.spines[s].set_color(AXC)
        ax.spines[s].set_linewidth(1.0)
    ax.set_yticks([0, 0.25, 0.5, 0.75, 1.0])
    ax.set_yticklabels(['0.00', '0.25', '0.50', '0.75', '1.00'])
    style_ticks(ax, ticks)

    medians = []
    for rows, cc, end, ci_end, col in zip(curves, cens, ends, ci_ends, cols):
        r = np.array(rows, dtype=float)
        t, s, lo, hi = r[:, 0], r[:, 1], r[:, 2], r[:, 3]
        for band in (lo, hi):
            ax.step(np.r_[t, ci_end], np.r_[band, band[-1]], where='post', color=col,
                    lw=0.8, alpha=0.75, dashes=(3, 2), zorder=2)
        ax.step(np.r_[t, end], np.r_[s, s[-1]], where='post', color=col, lw=1.3, zorder=3)
        cy = s[np.searchsorted(t, cc, side='right') - 1]
        ax.plot(cc, cy, ls='none', marker='+', ms=4, mew=0.8, color=col, zorder=4)
        below = np.nonzero(s <= 0.5)[0]
        if len(below):
            medians.append(t[below[0]])
    if medians:
        ax.plot([0, max(medians)], [0.5, 0.5], color='black', lw=0.9, dashes=(3, 2), zorder=5)
        for m in medians:
            ax.plot([m, m], [0.5, 0], color='black', lw=0.9, dashes=(3, 2), zorder=5)
    ax.text(0.018 * xmax, 0.19, pvals[k], fontsize=6.5, va='center', ha='left', color='#111111')

    yl, nar, row1, dy, tax, yl2 = tab_pos[k]
    mid = x0 + xmax / 2 * sx
    over.text(mid, yl, 'years', color=YEARS_C, fontsize=6.5, fontweight='bold',
              ha='center', va='center')
    over.text(left, nar, 'Number at risk', color=NAVY, fontsize=7.5, fontweight='bold',
              ha='left', va='center')
    over.text(mid, yl2, 'years', color=YEARS_C, fontsize=6.5, fontweight='bold',
              ha='center', va='center')
    over.text(*title_pos[k], titles[k], fontsize=18.5, ha='center', va='center')

    # risk table
    ttop = row1 - 0.6 * dy
    tb = fig.add_axes(rect(left, ttop, right, tax))
    tb.set_xlim(xa, xb)
    tb.set_ylim((tax - row1) / dy, -0.6)
    tb.patch.set_alpha(0)
    for s in ['top', 'right']:
        tb.spines[s].set_visible(False)
    tb.spines['bottom'].set_color(AXC)
    tb.spines['bottom'].set_linewidth(1.0)
    tb.spines['left'].set_color('#999999')
    tb.spines['left'].set_linewidth(0.8)
    tb.set_yticks([])
    style_ticks(tb, ticks)
    for i, (nums, col) in enumerate(zip(risk, cols_l)):
        for tk, n in zip(ticks, nums):
            tb.text(tk, i, str(n), color=col, fontsize=6.3, ha='center', va='center')

# panel letters and y labels
over.text(52, 18, 'A', fontsize=23, fontweight='bold', ha='center', va='center')
over.text(54, 589, 'B', fontsize=23, fontweight='bold', ha='center', va='center')
for (x, y) in [(45, 108), (45, 367), (28, 715), (29, 1048)]:
    over.text(x, y, 'OS', fontsize=17, ha='center', va='center')

# legends
for lab, col, yc in zip(legend_a, two, [352, 411]):
    over.add_patch(FancyBboxPatch((816, yc - 13), 20, 26, boxstyle='round,pad=0,rounding_size=4',
                                  fc=col, ec='black', lw=1.6, alpha=0.9))
    over.text(851, yc, lab, fontsize=11.5, ha='left', va='center', color='#222222')
for lab, col, yc in zip(legend_b, four, [996, 1055, 1116, 1176]):
    over.add_patch(FancyBboxPatch((803, yc - 13), 20, 26, boxstyle='round,pad=0,rounding_size=4',
                                  fc=col, ec='black', lw=1.6, alpha=0.9))
    over.text(838, yc, lab, fontsize=11.5, ha='left', va='center', color='#222222')

fig.savefig('out.png', dpi=100)
